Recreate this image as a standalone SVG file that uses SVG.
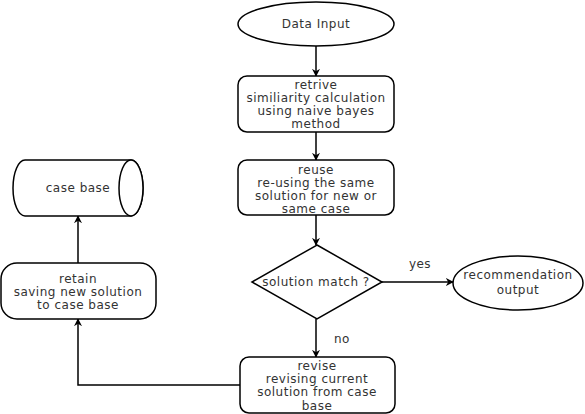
<svg xmlns="http://www.w3.org/2000/svg" width="585" height="414" viewBox="0 0 585 414">
<style>
.s{fill:#fff;stroke:#000;stroke-width:1.5}
.t{font-family:"DejaVu Sans",sans-serif;font-size:12px;letter-spacing:0.5px;fill:#333;text-anchor:middle}
.c{fill:none;stroke:#000;stroke-width:1.5}
</style>
<defs>
<marker id="a" viewBox="0 0 10 10" refX="9" refY="5" markerWidth="8" markerHeight="8" markerUnits="userSpaceOnUse" orient="auto">
<path d="M0,0 L10,5 L0,10 L3,5 Z" fill="#000"/>
</marker>
</defs>
<rect width="585" height="414" fill="#fff"/>
<g id="connectors">
<path class="c" d="M316,46 V76" marker-end="url(#a)"/>
<path class="c" d="M316,132 V160" marker-end="url(#a)"/>
<path class="c" d="M316,215 V245" marker-end="url(#a)"/>
<path class="c" d="M316,319 V357" marker-end="url(#a)"/>
<path class="c" d="M382,282 H453" marker-end="url(#a)"/>
<path class="c" d="M240,385 H78 V319" marker-end="url(#a)"/>
<path class="c" d="M78,263 V216" marker-end="url(#a)"/>
<text class="t" x="420" y="268">yes</text>
<text class="t" x="342" y="343">no</text>
</g>
<g id="data-input">
<ellipse class="s" cx="316" cy="24" rx="78" ry="22"/>
<text class="t" x="316" y="28">Data Input</text>
</g>
<g id="retrive">
<rect class="s" x="238" y="76" width="156" height="56" rx="9"/>
<text class="t" x="316" y="89">retrive</text>
<text class="t" x="316" y="102">similiarity calculation</text>
<text class="t" x="316" y="115">using naive bayes</text>
<text class="t" x="316" y="128">method</text>
</g>
<g id="reuse">
<rect class="s" x="238" y="160" width="156" height="55" rx="9"/>
<text class="t" x="316" y="174">reuse</text>
<text class="t" x="316" y="187">re-using the same</text>
<text class="t" x="316" y="200">solution for new or</text>
<text class="t" x="316" y="213">same case</text>
</g>
<g id="solution-match">
<path class="s" d="M317,245 L382,282 L317,319 L252,282 Z"/>
<text class="t" x="316" y="286">solution match ?</text>
</g>
<g id="recommendation">
<ellipse class="s" cx="518" cy="283" rx="65" ry="27"/>
<text class="t" x="518" y="279">recommendation</text>
<text class="t" x="518" y="294">output</text>
</g>
<g id="revise">
<rect class="s" x="240" y="357" width="155" height="56" rx="9"/>
<text class="t" x="317" y="370">revise</text>
<text class="t" x="317" y="383">revising current</text>
<text class="t" x="317" y="396">solution from case</text>
<text class="t" x="317" y="410">base</text>
</g>
<g id="retain">
<rect class="s" x="1" y="263" width="155" height="56" rx="16"/>
<text class="t" x="78" y="283">retain</text>
<text class="t" x="78" y="296">saving new solution</text>
<text class="t" x="78" y="309">to case base</text>
</g>
<g id="case-base">
<path class="s" d="M25,160 H131 A12,28 0 0 1 131,216 H25 A12,28 0 0 1 25,160 Z"/>
<ellipse class="s" cx="131" cy="188" rx="12" ry="28"/>
<text class="t" x="78" y="192">case base</text>
</g>
</svg>
